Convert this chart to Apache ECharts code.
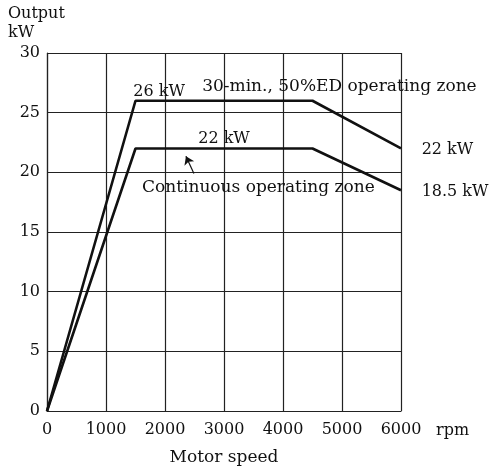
<!DOCTYPE html>
<html>
<head>
<meta charset="utf-8">
<script src="https://cdn.jsdelivr.net/npm/echarts@6/dist/echarts.min.js"></script>
<style>html,body{margin:0;padding:0;background:#fff}#c{width:491px;height:474px}</style>
</head>
<body>
<div id="c"></div>
<script>
// Data
const speedTicks = [0, 1000, 2000, 3000, 4000, 5000, 6000];
const outputTicks = [0, 5, 10, 15, 20, 25, 30];
const rating30min = [[0, 0], [1500, 26], [4500, 26], [6000, 22]];
const ratingCont = [[0, 0], [1500, 22], [4500, 22], [6000, 18.5]];
const arrowPts = [[2490, 19.9], [2355, 21.35]];

const FONT = 'DejaVu Serif';
const chart = echarts.init(document.getElementById('c'), null, {renderer: 'canvas'});
const lineCol = '#111';
const gridCol = '#222';

chart.setOption({
  backgroundColor: '#fff',
  animation: false,
  grid: {left: 47, right: 90, top: 53, bottom: 63},
  xAxis: {
    type: 'value', min: speedTicks[0], max: speedTicks[speedTicks.length - 1], interval: 1000,
    name: 'Motor speed', nameLocation: 'middle', nameGap: 38,
    nameTextStyle: {fontFamily: FONT, fontSize: 17, color: '#111'},
    axisLine: {show: true, lineStyle: {color: gridCol, width: 1.2}},
    axisTick: {show: false},
    axisLabel: {fontFamily: FONT, fontSize: 16, color: '#111', margin: 11, formatter: v => String(v)},
    splitLine: {show: true, lineStyle: {color: gridCol, width: 1.2}}
  },
  yAxis: {
    type: 'value', min: outputTicks[0], max: outputTicks[outputTicks.length - 1], interval: 5,
    axisLine: {show: true, lineStyle: {color: gridCol, width: 1.2}},
    axisTick: {show: false},
    axisLabel: {fontFamily: FONT, fontSize: 16, color: '#111', margin: 7, formatter: v => String(v)},
    splitLine: {show: true, lineStyle: {color: gridCol, width: 1.2}}
  },
  series: [
    {type: 'line', data: rating30min, symbol: 'none', lineStyle: {color: lineCol, width: 2.6}, z: 5},
    {type: 'line', data: ratingCont, symbol: 'none', lineStyle: {color: lineCol, width: 2.6}, z: 5,
     markLine: {
       silent: true, symbol: ['none', 'arrow'], symbolSize: 8,
       label: {show: false},
       emphasis: {disabled: true},
       lineStyle: {color: lineCol, width: 1.2, type: 'solid'},
       data: [[{coord: arrowPts[0]}, {coord: arrowPts[1]}]]
     }}
  ]
});

// Annotations positioned in data coordinates
const notes = [
  {text: '26 kW', at: [1900, 26.75], align: 'center', size: 16},
  {text: '30-min., 50%ED operating zone', at: [2630, 27.2], align: 'left', size: 17},
  {text: '22 kW', at: [3000, 22.8], align: 'center', size: 16},
  {text: 'Continuous operating zone', at: [1610, 18.7], align: 'left', size: 17},
  {text: '22 kW', at: [6350, 21.9], align: 'left', size: 16},
  {text: '18.5 kW', at: [6350, 18.4], align: 'left', size: 16}
];
const g = notes.map(n => {
  const p = chart.convertToPixel({gridIndex: 0}, n.at);
  return {type: 'text', x: p[0], y: p[1], z: 10,
    style: {text: n.text, fill: '#111', font: n.size + 'px "' + FONT + '"', textAlign: n.align, textVerticalAlign: 'middle'}};
});
const rpmPos = chart.convertToPixel({gridIndex: 0}, [6000, 0]);
g.push({type: 'text', x: rpmPos[0] + 35, y: rpmPos[1] + 12, style: {text: 'rpm', fill: '#111', font: '16px "' + FONT + '"', textAlign: 'left', textVerticalAlign: 'top'}});
g.push({type: 'text', x: 8, y: 6, style: {text: 'Output', fill: '#111', font: '16px "' + FONT + '"', textAlign: 'left', textVerticalAlign: 'top'}});
g.push({type: 'text', x: 8, y: 25, style: {text: 'kW', fill: '#111', font: '16px "' + FONT + '"', textAlign: 'left', textVerticalAlign: 'top'}});
chart.setOption({graphic: g});
</script>
</body>
</html>
